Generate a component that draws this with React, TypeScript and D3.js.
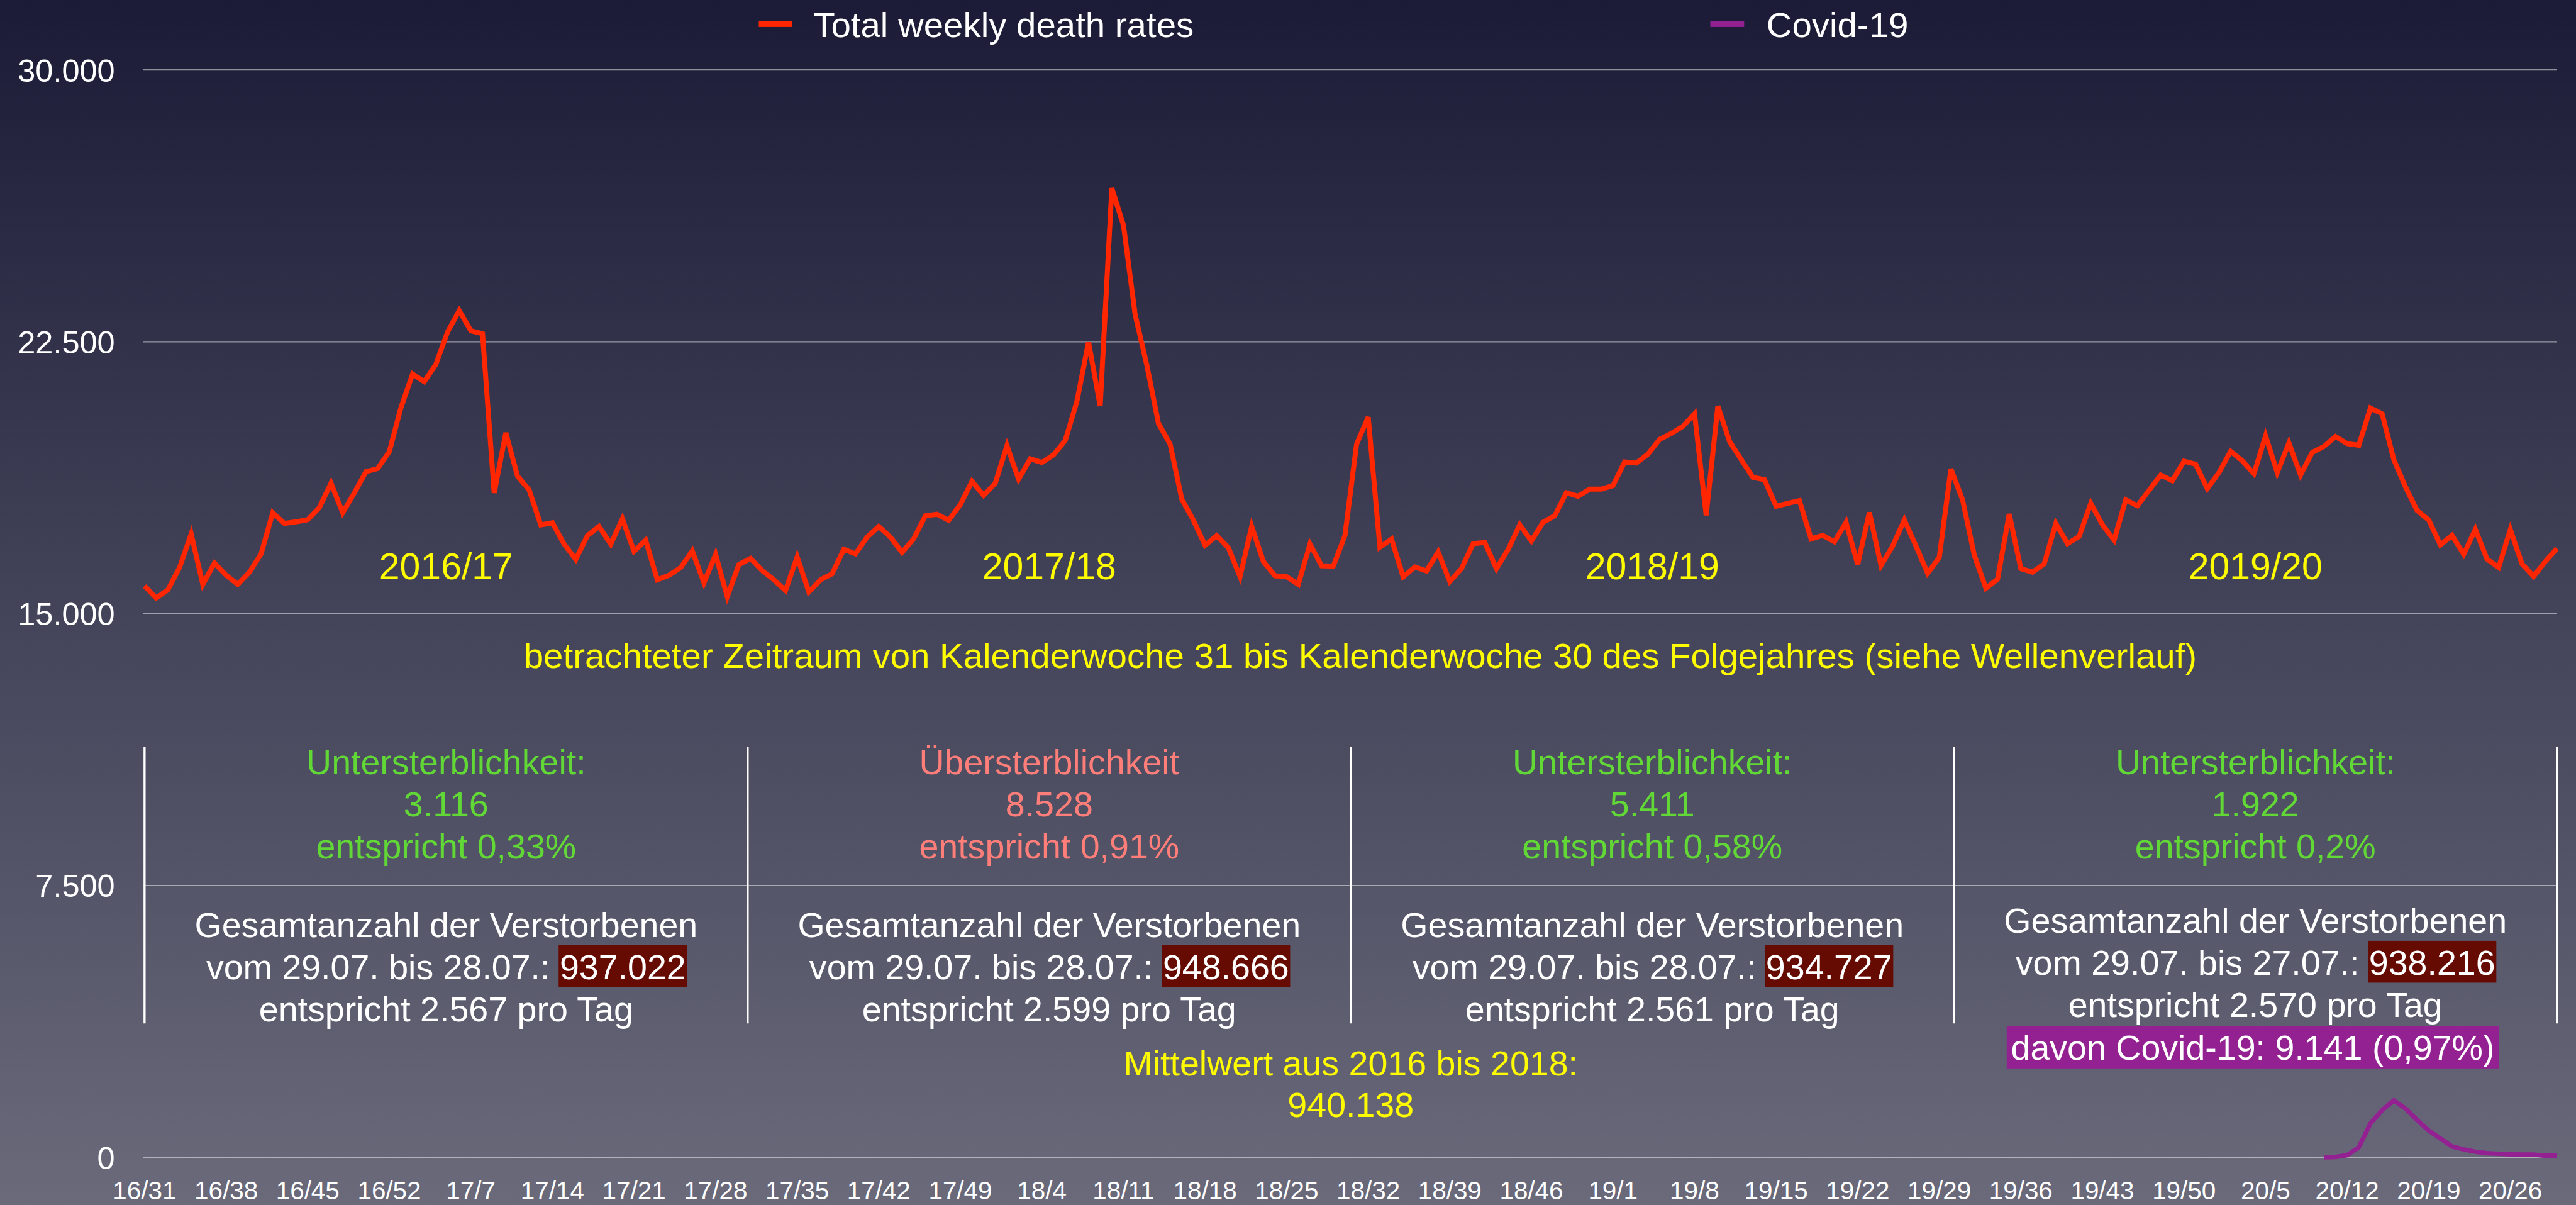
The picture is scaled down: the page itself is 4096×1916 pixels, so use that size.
import React, { useEffect, useRef } from "react";
import * as d3 from "d3";

// reference size, drawn through viewBox into the 4096x1916 window
const W = 4865;
const H = 2276;

// x tick labels (every 7th week)
const weekTicks = [
  "16/31", "16/38", "16/45", "16/52", "17/7", "17/14", "17/21", "17/28", "17/35", "17/42",
  "17/49", "18/4", "18/11", "18/18", "18/25", "18/32", "18/39", "18/46", "19/1", "19/8",
  "19/15", "19/22", "19/29", "19/36", "19/43", "19/50", "20/5", "20/12", "20/19", "20/26",
];

const yTicks = [0, 7500, 15000, 22500, 30000];

// total weekly deaths, KW 31 to KW 30 of the following year
const deaths1617 = [
  15765, 15429, 15656, 16270, 17200, 15807, 16396, 16059, 15807, 16143,
  16648, 17783, 17489, 17531, 17590, 17926, 18599, 17783, 18330, 18918,
  19002, 19465, 20684, 21609, 21398, 21878, 22769, 23358, 22803, 22719,
  18330, 19986, 18792, 18414, 17447, 17506, 16917, 16497, 17152, 17405,
  16917, 17615, 16715, 17026, 15933, 16059, 16270, 16732, 15849, 16631,
  15471, 16354,
];
const deaths1718 = [
  16522, 16186, 15933, 15639, 16564, 15597, 15933, 16101, 16774, 16648,
  17110, 17405, 17110, 16690, 17068, 17699, 17741, 17573, 18010, 18649,
  18262, 18599, 19633, 18708, 19271, 19170, 19381, 19776, 20852, 22492,
  20726, 26738, 25712, 23248, 21861, 20247, 19675, 18161, 17573, 16883,
  17152, 16816, 16017, 17405, 16438, 16043, 16017, 15807, 16917, 16320,
  16310, 17152,
];
const deaths1819 = [
  19675, 20420, 16833, 17056, 16014, 16288, 16177, 16700, 15883, 16242,
  16929, 16962, 16242, 16766, 17452, 17007, 17518, 17701, 18335, 18237,
  18433, 18433, 18531, 19185, 19152, 19401, 19806, 19970, 20166, 20512,
  17714, 20722, 19754, 19250, 18760, 18694, 17962, 18041, 18119, 17060,
  17158, 16981, 17518, 16354, 17792, 16327, 16864, 17583, 16864, 16112,
  16550, 18989,
];
const deaths1920 = [
  18139, 16620, 15700, 15948, 17746, 16242, 16144, 16373, 17485, 16929,
  17125, 18041, 17452, 17027, 18139, 17975, 18400, 18825, 18662, 19205,
  19120, 18446, 18891, 19479, 19218, 18858, 19904, 18891, 19708, 18825,
  19447, 19610, 19885, 19689, 19643, 20669, 20512, 19250, 18498, 17845,
  17583, 16896, 17158, 16635, 17321, 16504, 16275, 17321, 16373, 16027,
  16439, 16798,
];

// Covid-19 deaths 2020, KW 10 to KW 30
const covidWeeks = [
  "20/10", "20/11", "20/12", "20/13", "20/14", "20/15", "20/16", "20/17", "20/18", "20/19",
  "20/20", "20/21", "20/22", "20/23", "20/24", "20/25", "20/26", "20/27", "20/28", "20/29", "20/30",
];
const covid19 = [
  0, 10, 60, 280, 935, 1300, 1570, 1350, 1030, 740,
  520, 300, 220, 155, 115, 100, 85, 75, 75, 45, 45,
];

const seasons = ["2016/17", "2017/18", "2018/19", "2019/20"];
const excessTitle = ["Untersterblichkeit:", "Übersterblichkeit", "Untersterblichkeit:", "Untersterblichkeit:"];
const excessValue = ["3.116", "8.528", "5.411", "1.922"];
const excessShare = ["entspricht 0,33%", "entspricht 0,91%", "entspricht 0,58%", "entspricht 0,2%"];
const periodEnd = ["28.07.", "28.07.", "28.07.", "27.07."];
const totals = ["937.022", "948.666", "934.727", "938.216"];
const perDay = ["2.567", "2.599", "2.561", "2.570"];

const FONT = "'Liberation Sans', Arial, Helvetica, sans-serif";
const RED = "#ff2600";
const PURPLE = "#942192";
const GREEN = "#61d836";
const SALMON = "#ff7e79";
const YELLOW = "#fffb00";
const MAROON = "#650b02";

// all calendar weeks from 16/31 to 20/30
const allWeeks: string[] = [];
[[16, 31, 52], [17, 1, 52], [18, 1, 52], [19, 1, 52], [20, 1, 30]].forEach(([y, a, b]) => {
  for (let w = a; w <= b; w++) allWeeks.push(`${y}/${w}`);
});
const totalDeaths = [...deaths1617, ...deaths1718, ...deaths1819, ...deaths1920];

const App = () => {
  const svgRef = useRef<SVGSVGElement>(null);

  useEffect(() => {
    const svg = d3.select(svgRef.current);
    svg.selectAll("*").remove();

    const left = 273;
    const right = 4829;

    const x = d3.scalePoint<string>().domain(allWeeks).range([left, right]);
    const y = d3.scaleLinear().domain([0, 30000]).range([2186, 132]);
    const de = d3.formatLocale({ decimal: ",", thousands: ".", grouping: [3], currency: ["", "€"] });
    const fmt = de.format(",");

    const defs = svg.append("defs");
    const grad = defs.append("linearGradient").attr("id", "bg").attr("x1", 0).attr("y1", 0).attr("x2", 0).attr("y2", 1);
    grad.append("stop").attr("offset", "0%").attr("stop-color", "#1b1b37");
    grad.append("stop").attr("offset", "100%").attr("stop-color", "#6a6a7b");
    svg.append("rect").attr("width", W).attr("height", H).attr("fill", "url(#bg)");

    // grid + y labels
    const grid = svg.append("g");
    grid.selectAll("line").data(yTicks).enter().append("line")
      .attr("x1", 270).attr("x2", right)
      .attr("y1", (d) => y(d)).attr("y2", (d) => y(d))
      .attr("stroke", "#ffffff").attr("stroke-opacity", 0.5).attr("stroke-width", 2.5);
    grid.selectAll("text").data(yTicks).enter().append("text")
      .attr("x", 217).attr("y", (d) => y(d) + 22)
      .attr("text-anchor", "end").attr("fill", "#fff")
      .style("font-family", FONT).style("font-size", "60px")
      .text((d) => fmt(d));

    // x labels
    svg.append("g").selectAll("text").data(weekTicks).enter().append("text")
      .attr("x", (d) => x(d) as number).attr("y", 2265)
      .attr("text-anchor", "middle").attr("fill", "#fff")
      .style("font-family", FONT).style("font-size", "48px")
      .text((d) => d);

    // legend
    const legend = svg.append("g").style("font-family", FONT).style("font-size", "67px");
    legend.append("rect").attr("x", 1433).attr("y", 40).attr("width", 63).attr("height", 11).attr("fill", RED);
    legend.append("text").attr("x", 1536).attr("y", 70).attr("fill", "#fff").text("Total weekly death rates");
    legend.append("rect").attr("x", 3230).attr("y", 40).attr("width", 64).attr("height", 11).attr("fill", PURPLE);
    legend.append("text").attr("x", 3336).attr("y", 70).attr("fill", "#fff").text("Covid-19");

    const q = (right - left) / 4;
    const centers = seasons.map((_, i) => left + q * (i + 0.5));

    // season labels
    svg.append("g").selectAll("text").data(seasons).enter().append("text")
      .attr("x", (_, i) => centers[i]).attr("y", 1094)
      .attr("text-anchor", "middle").attr("fill", YELLOW)
      .style("font-family", FONT).style("font-size", "70px")
      .text((d) => d);

    // lines
    const line = d3.line<number>()
      .x((_, i) => x(allWeeks[i]) as number)
      .y((d) => y(d));
    svg.append("path").datum(totalDeaths).attr("d", line)
      .attr("fill", "none").attr("stroke", RED).attr("stroke-width", 9.5);

    const covLine = d3.line<number>()
      .x((_, i) => x(covidWeeks[i]) as number)
      .y((d) => y(d));
    svg.append("path").datum(covid19).attr("d", covLine)
      .attr("fill", "none").attr("stroke", PURPLE).attr("stroke-width", 8.5);

    const txt = svg.append("g").style("font-family", FONT).style("font-size", "66px");

    txt.append("text").attr("x", 2569).attr("y", 1262).attr("text-anchor", "middle").attr("fill", YELLOW)
      .style("font-size", "67px")
      .text("betrachteter Zeitraum von Kalenderwoche 31 bis Kalenderwoche 30 des Folgejahres (siehe Wellenverlauf)");

    // box separators
    svg.append("g").selectAll("line").data([0, 1, 2, 3, 4]).enter().append("line")
      .attr("x1", (d) => left + q * d).attr("x2", (d) => left + q * d)
      .attr("y1", 1411).attr("y2", 1933)
      .attr("stroke", "#fff").attr("stroke-width", 4);

    const hl = txt.append("g");
    seasons.forEach((_, i) => {
      const cx = centers[i];
      const col = i === 1 ? SALMON : GREEN;
      [excessTitle[i], excessValue[i], excessShare[i]].forEach((s, k) => {
        txt.append("text").attr("x", cx).attr("y", 1462 + k * 80).attr("text-anchor", "middle")
          .attr("fill", col).text(s);
      });
      const base = i === 3 ? 1762 : 1770;
      txt.append("text").attr("x", cx).attr("y", base).attr("text-anchor", "middle").attr("fill", "#fff")
        .text("Gesamtanzahl der Verstorbenen");
      const prefix = `vom 29.07. bis ${periodEnd[i]}: `;
      const t = txt.append("text").attr("x", cx).attr("y", base + 79).attr("text-anchor", "middle").attr("fill", "#fff");
      t.append("tspan").text(prefix);
      t.append("tspan").text(totals[i]);
      const node = t.node() as SVGTextElement;
      const sx = node.getStartPositionOfChar(prefix.length).x;
      const sw = node.getSubStringLength(prefix.length, totals[i].length);
      hl.append("rect").attr("x", sx - 2).attr("y", base + 79 - 64).attr("width", sw + 4).attr("height", 79).attr("fill", MAROON);
      txt.append("text").attr("x", cx).attr("y", base + 159).attr("text-anchor", "middle").attr("fill", "#fff")
        .text(`entspricht ${perDay[i]} pro Tag`);
      if (i === 3) {
        const c = txt.append("text").attr("x", cx - 5).attr("y", base + 240).attr("text-anchor", "middle").attr("fill", "#fff")
          .text("davon Covid-19: 9.141 (0,97%)");
        const b = (c.node() as SVGTextElement).getBBox();
        hl.append("rect").attr("x", b.x - 8).attr("y", base + 240 - 64).attr("width", b.width + 16).attr("height", 80).attr("fill", PURPLE);
      }
    });

    txt.append("text").attr("x", 2551).attr("y", 2031).attr("text-anchor", "middle").attr("fill", YELLOW)
      .text("Mittelwert aus 2016 bis 2018:");
    txt.append("text").attr("x", 2551).attr("y", 2110).attr("text-anchor", "middle").attr("fill", YELLOW)
      .text("940.138");
  }, []);

  return (
    <svg
      ref={svgRef}
      width={4096}
      height={1916}
      viewBox={`0 0 ${W} ${H}`}
      preserveAspectRatio="none"
      style={{ position: "fixed", left: 0, top: 0, display: "block" }}
    />
  );
};

export default App;
